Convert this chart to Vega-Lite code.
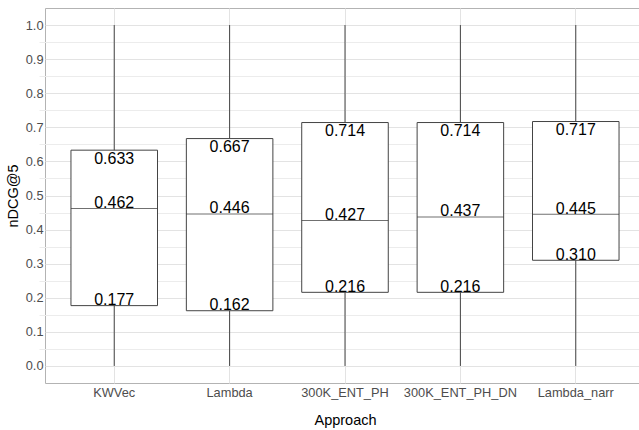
{
  "$schema": "https://vega.github.io/schema/vega-lite/v6.json",
  "width": 594,
  "height": 375,
  "autosize": {"type": "none"},
  "padding": {"left": 45, "top": 8, "right": 0, "bottom": 47},
  "background": "white",
  "config": {
    "font": "Liberation Sans",
    "view": {"stroke": "#b3b3b3", "strokeWidth": 1},
    "axis": {
      "labelColor": "#4d4d4d",
      "labelFontSize": 12.8,
      "labelFont": "Liberation Sans",
      "titleFont": "Liberation Sans",
      "titleFontSize": 14.5,
      "titleFontWeight": "normal",
      "titleColor": "#000000",
      "ticks": false,
      "tickSize": 0,
      "domain": false,
      "gridColor": "#e3e3e3",
      "gridWidth": 1
    }
  },
  "data": {
    "values": [
      {"approach": "KWVec", "min": 0, "q1": 0.177, "median": 0.462, "q3": 0.633, "max": 1},
      {"approach": "Lambda", "min": 0, "q1": 0.162, "median": 0.446, "q3": 0.667, "max": 1},
      {"approach": "300K_ENT_PH", "min": 0, "q1": 0.216, "median": 0.427, "q3": 0.714, "max": 1},
      {"approach": "300K_ENT_PH_DN", "min": 0, "q1": 0.216, "median": 0.437, "q3": 0.714, "max": 1},
      {"approach": "Lambda_narr", "min": 0, "q1": 0.310, "median": 0.445, "q3": 0.717, "max": 1}
    ]
  },
  "encoding": {
    "x": {
      "field": "approach",
      "type": "nominal",
      "sort": ["KWVec", "Lambda", "300K_ENT_PH", "300K_ENT_PH_DN", "Lambda_narr"],
      "scale": {"type": "band", "range": [0, 600], "paddingInner": 0, "paddingOuter": 0.1},
      "axis": {
        "title": "Approach",
        "labelAngle": 0,
        "labelPadding": 3,
        "titlePadding": 15,
        "bandPosition": 0.5,
        "grid": true
      }
    }
  },
  "layer": [
    {
      "mark": {"type": "rule", "color": "#444444", "strokeWidth": 1},
      "encoding": {
        "y": {
          "field": "min",
          "type": "quantitative",
          "scale": {"domain": [-0.05, 1.05], "nice": false, "zero": false},
          "axis": {
            "orient": "right",
            "values": [0.05, 0.15, 0.25, 0.35, 0.45, 0.55, 0.65, 0.75, 0.85, 0.95],
            "labels": false,
            "title": null,
            "grid": true,
            "gridColor": "#ececec"
          }
        },
        "y2": {"field": "max"}
      }
    },
    {
      "mark": {"type": "bar", "fill": "white", "stroke": "#444444", "strokeWidth": 1, "width": {"band": 0.75}},
      "encoding": {
        "y": {
          "field": "q1",
          "type": "quantitative",
          "axis": {
            "orient": "left",
            "values": [0, 0.1, 0.2, 0.3, 0.4, 0.5, 0.6, 0.7, 0.8, 0.9, 1.0],
            "format": ".1f",
            "labelPadding": 2,
            "title": "nDCG@5",
            "titlePadding": 5,
            "grid": true
          }
        },
        "y2": {"field": "q3"}
      }
    },
    {
      "mark": {"type": "tick", "color": "#333333", "thickness": 1, "size": 86.5, "orient": "horizontal"},
      "encoding": {
        "y": {"field": "median", "type": "quantitative", "axis": null}
      }
    },
    {
      "mark": {"type": "text", "fontSize": 16, "color": "#000000", "baseline": "alphabetic", "dy": 13.5},
      "encoding": {
        "y": {"field": "q3", "type": "quantitative", "axis": null},
        "text": {"field": "q3", "type": "quantitative", "format": ".3f"}
      }
    },
    {
      "mark": {"type": "text", "fontSize": 16, "color": "#000000", "baseline": "alphabetic", "dy": -0.5},
      "encoding": {
        "y": {"field": "median", "type": "quantitative", "axis": null},
        "text": {"field": "median", "type": "quantitative", "format": ".3f"}
      }
    },
    {
      "mark": {"type": "text", "fontSize": 16, "color": "#000000", "baseline": "alphabetic", "dy": -0.5},
      "encoding": {
        "y": {"field": "q1", "type": "quantitative", "axis": null},
        "text": {"field": "q1", "type": "quantitative", "format": ".3f"}
      }
    }
  ],
  "resolve": {"axis": {"y": "independent"}}
}
